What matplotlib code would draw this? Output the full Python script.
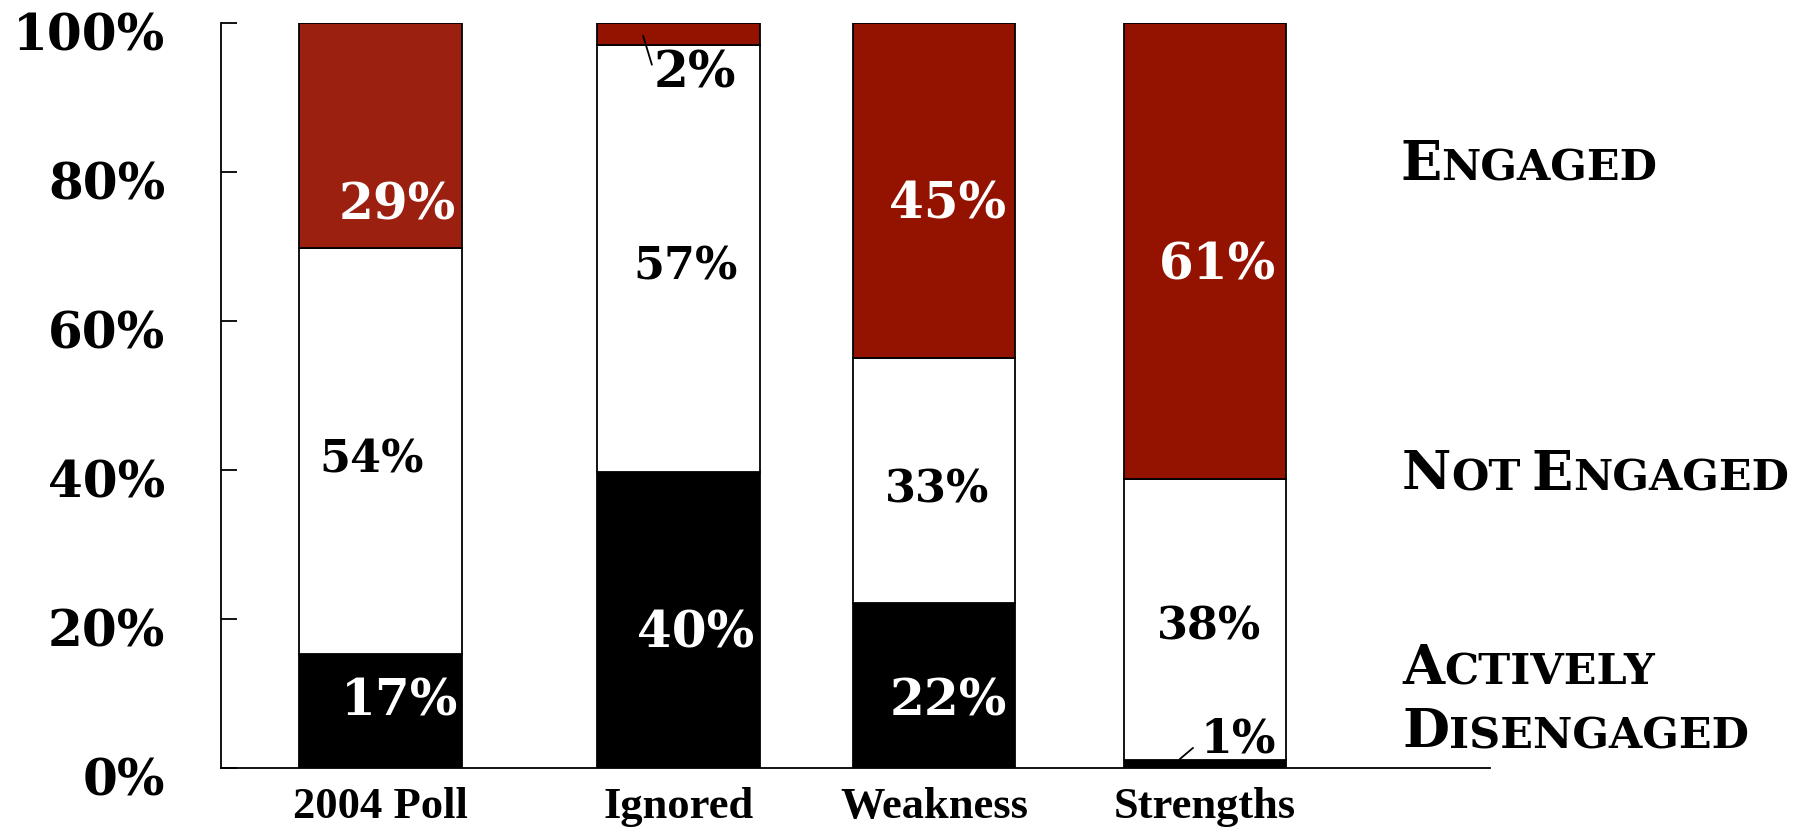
import matplotlib
matplotlib.use("Agg")
from matplotlib import pyplot as plt
from matplotlib import transforms

# data (segment heights in %)
groups = ["2004 Poll", "Ignored", "Weakness", "Strengths"]
disengaged = [15.3, 39.7, 22.1, 1.1]
not_engaged = [54.5, 57.3, 32.9, 37.7]
engaged = [30.2, 3.0, 45.0, 61.2]

# the numbers printed on the bars
disengaged_txt = ["17%", "40%", "22%", "1%"]
not_engaged_txt = ["54%", "57%", "33%", "38%"]
engaged_txt = ["29%", "2%", "45%", "61%"]

# layout (not data)
bar_pos = [0, 1.084, 2.013, 2.998]
bar_w = 0.59
red = ["#9B2010", "#941200", "#941200", "#941200"]
SERIF = "DejaVu Serif"
TNR = "Liberation Serif"

# label placement per bar: (dx, y)
eng_lbl = [(0.06, 75.4), (0.06, 93.2), (0.051, 75.6), (0.047, 67.4)]
not_lbl = [(-0.031, 41.3), (0.027, 67.2), (0.011, 37.3), (0.015, 18.9)]
dis_lbl = [(0.071, 8.9), (0.063, 18.0), (0.051, 8.9), (0.12, 3.8)]


def small_caps(fig, x, y, text, big=39, small=31):
    """Fake small caps: first letter of each word big, rest smaller."""
    r = fig.canvas.get_renderer()
    W, H = fig.bbox.width, fig.bbox.height
    for word in text.split(" "):
        for chunk, size in ((word[0], big), (word[1:].upper(), small)):
            if not chunk:
                continue
            t = fig.text(x / W, y / H, chunk, fontsize=size, family=SERIF,
                         weight="bold", ha="left", va="baseline")
            x += t.get_window_extent(r).width
        x += 0.28 * big


def main():
    fig = plt.figure(figsize=(18.1, 8.3), dpi=100)
    ax = fig.add_axes([221 / 1810, 62 / 830, 1269 / 1810, 745 / 830])

    bot2 = [a + b for a, b in zip(disengaged, not_engaged)]
    ax.bar(bar_pos, disengaged, bar_w, color="black", edgecolor="black", lw=1.3)
    ax.bar(bar_pos, not_engaged, bar_w, bottom=disengaged, color="white",
           edgecolor="black", lw=1.3)
    ax.bar(bar_pos, engaged, bar_w, bottom=bot2, color=red,
           edgecolor="black", lw=1.3)

    for i, p in enumerate(bar_pos):
        # engaged labels (white on red, except the tiny one)
        dx, y = eng_lbl[i]
        ax.text(p + dx, y, engaged_txt[i], ha="center", va="center",
                fontsize=36, family=SERIF, weight="bold",
                color="black" if engaged[i] < 5 else "white")
        dx, y = not_lbl[i]
        ax.text(p + dx, y, not_engaged_txt[i], ha="center", va="center",
                fontsize=32, family=SERIF, weight="bold", color="black")
        dx, y = dis_lbl[i]
        ax.text(p + dx, y, disengaged_txt[i], ha="center", va="center",
                fontsize=36 if disengaged[i] > 5 else 33, family=SERIF,
                weight="bold",
                color="white" if disengaged[i] > 5 else "black")

    # leader lines for the tiny segments
    ax.annotate("", xy=(0.955, 98.3), xytext=(0.987, 94.4),
                arrowprops=dict(arrowstyle="-", lw=1.3, color="black",
                                shrinkA=0, shrinkB=0))
    ax.annotate("", xy=(2.907, 1.2), xytext=(2.955, 2.7),
                arrowprops=dict(arrowstyle="-", lw=1.3, color="black",
                                shrinkA=0, shrinkB=0))

    ax.set_xlim(-0.58, 4.035)
    ax.set_ylim(0, 100)
    ax.set_yticks([0, 20, 40, 60, 80, 100])
    ax.set_yticklabels(["0%", "20%", "40%", "60%", "80%", "100%"],
                       fontsize=36, family=SERIF, weight="bold")
    ax.tick_params(axis="y", direction="in", length=11.5, width=1.3, pad=40)
    ax.set_xticks(bar_pos)
    ax.set_xticklabels(groups, fontsize=32, family=TNR, weight="bold")
    ax.tick_params(axis="x", length=0, pad=14)
    for lab in ax.get_yticklabels():
        lab.set_transform(lab.get_transform() +
                          transforms.ScaledTranslation(0, -0.08, fig.dpi_scale_trans))

    for s in ("top", "right"):
        ax.spines[s].set_visible(False)
    for s in ("left", "bottom"):
        ax.spines[s].set_linewidth(1.3)

    small_caps(fig, 1400, 650, "Engaged")
    small_caps(fig, 1402, 340, "Not Engaged")
    small_caps(fig, 1402, 146, "Actively")
    small_caps(fig, 1402, 82, "Disengaged")

    fig.savefig("out.png", dpi=100)


if __name__ == "__main__":
    main()
